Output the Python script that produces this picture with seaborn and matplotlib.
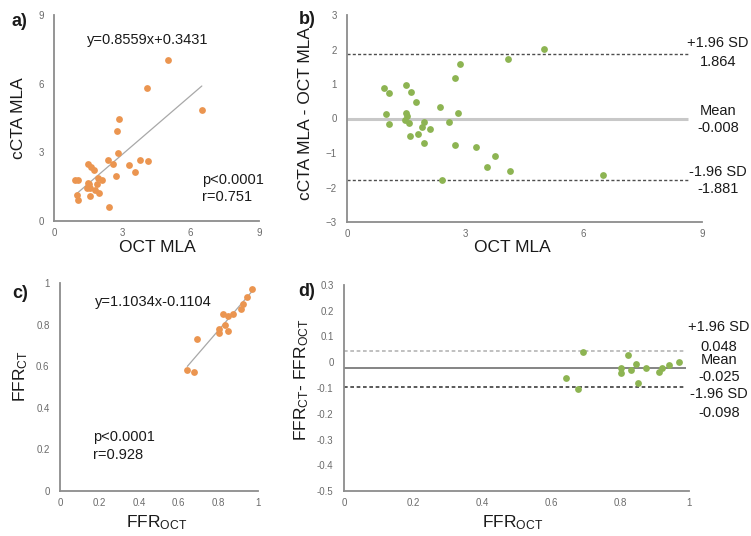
import numpy as np
import pandas as pd
import matplotlib
matplotlib.use("Agg")
import matplotlib.pyplot as plt
import seaborn as sns

# ---------------- data ----------------
oct_mla = [0.93, 1.06, 1.00, 1.06, 1.50, 1.61, 1.75, 1.49, 1.53, 1.47, 1.57,
           1.59, 1.81, 1.89, 1.95, 2.10, 1.96, 2.35, 2.59, 2.75, 2.86, 2.82,
           2.74, 3.28, 3.76, 3.56, 4.12, 4.08, 5.00, 6.49, 2.40]
cta_mla = [1.81, 1.80, 1.14, 0.90, 2.47, 2.38, 2.24, 1.65, 1.60, 1.44, 1.45,
           1.09, 1.37, 1.63, 1.86, 1.80, 1.24, 2.68, 2.48, 3.93, 4.45, 2.97,
           1.98, 2.46, 2.66, 2.14, 2.61, 5.81, 7.02, 4.84, 0.63]
ffr_oct = [0.643, 0.677, 0.693, 0.972, 0.942, 0.923, 0.912, 0.875, 0.823,
           0.846, 0.832, 0.803, 0.802, 0.851]
ffr_ct = [0.580, 0.572, 0.731, 0.972, 0.931, 0.901, 0.873, 0.852, 0.852,
          0.840, 0.800, 0.781, 0.760, 0.769]

mla_fit = [0.8559, 0.3431]      # slope, intercept
ffr_fit = [1.1034, -0.1104]
mla_ba_lines = [1.864, -0.008, -1.77]   # +1.96SD, mean, -1.96SD (as drawn)
ffr_ba_lines = [0.045, -0.023, -0.097]
mla_ba_labels = ["+1.96 SD", "1.864", "Mean", "-0.008", "-1.96 SD", "-1.881"]
ffr_ba_labels = ["+1.96 SD", "0.048", "Mean", "-0.025", "-1.96 SD", "-0.098"]

mla_ticks = [0, 3, 6, 9]
mla_diff_ticks = [-3, -2, -1, 0, 1, 2, 3]
ffr_ticks = [0, 0.2, 0.4, 0.6, 0.8, 1.0]
ffr_tick_labels = ["0", "0.2", "0.4", "0.6", "0.8", "1"]
ffr_diff_ticks = [-0.5, -0.4, -0.3, -0.2, -0.1, 0, 0.1, 0.2, 0.3]
ffr_diff_tick_labels = ["-0.5", "-0.4", "-0.3", "-0.2", "-0.1", "0", "0.1", "0.2", "0.3"]

df_mla = pd.DataFrame({"oct": oct_mla, "cta": cta_mla})
df_mla["diff"] = df_mla["cta"] - df_mla["oct"]
df_ffr = pd.DataFrame({"oct": ffr_oct, "ct": ffr_ct})
df_ffr["diff"] = df_ffr["ct"] - df_ffr["oct"]

# ---------------- style ----------------
sns.set_theme(style="white")
plt.rcParams["font.family"] = ["Liberation Sans", "DejaVu Sans"]
plt.rcParams["mathtext.fontset"] = "custom"
plt.rcParams["mathtext.rm"] = "Liberation Sans"
plt.rcParams["mathtext.it"] = "Liberation Sans:italic"
plt.rcParams["mathtext.bf"] = "Liberation Sans:bold"

W, H = 751, 536
fig = plt.figure(figsize=(W / 100, H / 100), dpi=100)

ORANGE = "#EB9550"
GREEN = "#8DB452"
SPINE = "#8c8c8c"
TICKC = "#6b6b6b"


def px_axes(x0, x1, y0, y1):
    return fig.add_axes([x0 / W, 1 - y1 / H, (x1 - x0) / W, (y1 - y0) / H])


def ftext(x, y, s, **kw):
    fig.text(x / W, 1 - y / H, s, **kw)


def style(ax):
    for side in ["top", "right"]:
        ax.spines[side].set_visible(False)
    for side in ["left", "bottom"]:
        ax.spines[side].set_color(SPINE)
        ax.spines[side].set_linewidth(1.3)
    ax.tick_params(axis="both", which="major", direction="out", length=3,
                   width=1.0, color=SPINE, labelsize=7, labelcolor=TICKC)
    ax.tick_params(axis="y", pad=4.5)
    ax.tick_params(axis="x", pad=2)
    ax.set_xlabel("")
    ax.set_ylabel("")
    ax.grid(False)


# ---------------- panel a ----------------
axa = px_axes(54, 259, 15, 221)
sns.scatterplot(data=df_mla, x="oct", y="cta", ax=axa, color=ORANGE, s=24,
                linewidth=0, zorder=3)
xs = np.array([df_mla["oct"].min(), df_mla["oct"].max()])
axa.plot(xs, mla_fit[0] * xs + mla_fit[1], color="#a8a8a8", lw=0.9, zorder=2)
axa.set_xlim(0, 9)
axa.set_ylim(0, 9)
axa.set_xticks(mla_ticks)
axa.set_yticks(mla_ticks)
style(axa)

# ---------------- panel b ----------------
axb = px_axes(347, 702, 15, 222)
sns.scatterplot(data=df_mla, x="oct", y="diff", ax=axb, color=GREEN, s=24,
                linewidth=0, zorder=3)
axb.hlines(mla_ba_lines[1], 0, 8.65, color="#c8c8c8", lw=2.2, zorder=1)
axb.hlines([mla_ba_lines[0], mla_ba_lines[2]], 0, 8.65, color="#4d4d4d",
           lw=1.0, linestyles=(0, (2.2, 1.6)), zorder=2)
axb.set_xlim(0, 9)
axb.set_ylim(-3, 3)
axb.set_xticks(mla_ticks)
axb.set_yticks(mla_diff_ticks)
style(axb)

# ---------------- panel c ----------------
axc = px_axes(60, 258, 283, 491)
sns.scatterplot(data=df_ffr, x="oct", y="ct", ax=axc, color=ORANGE, s=24,
                linewidth=0, zorder=3)
xs = np.array([df_ffr["oct"].min(), df_ffr["oct"].max()])
axc.plot(xs, ffr_fit[0] * xs + ffr_fit[1], color="#a8a8a8", lw=0.9, zorder=2)
axc.set_xlim(0, 1)
axc.set_ylim(0, 1)
axc.set_xticks(ffr_ticks)
axc.set_xticklabels(ffr_tick_labels)
axc.set_yticks(ffr_ticks)
axc.set_yticklabels(ffr_tick_labels)
style(axc)

# ---------------- panel d ----------------
axd = px_axes(344, 689, 285, 491)
sns.scatterplot(data=df_ffr, x="oct", y="diff", ax=axd, color=GREEN, s=24,
                linewidth=0, zorder=3)
axd.hlines(ffr_ba_lines[0], 0, 0.99, color="#b5b5b5", lw=1.2,
           linestyles=(0, (2.2, 1.6)), zorder=2)
axd.hlines(ffr_ba_lines[1], 0, 0.99, color="#707070", lw=1.2, zorder=2)
axd.hlines(ffr_ba_lines[2], 0, 0.99, color="#3d3d3d", lw=1.2,
           linestyles=(0, (2.2, 1.6)), zorder=2)
axd.set_xlim(0, 1)
axd.set_ylim(-0.5, 0.3)
axd.set_xticks(ffr_ticks)
axd.set_xticklabels(ffr_tick_labels)
axd.set_yticks(ffr_diff_ticks)
axd.set_yticklabels(ffr_diff_tick_labels)
style(axd)

# ---------------- texts ----------------
LAB = 12.5
TXT = 10.5
DARK = "#1a1a1a"

# panel letters
ftext(19, 22, "a)", fontsize=13, fontweight="bold", ha="center", va="center", color=DARK)
ftext(307, 19, "b)", fontsize=13, fontweight="bold", ha="center", va="center", color=DARK)
ftext(20, 293, "c)", fontsize=13, fontweight="bold", ha="center", va="center", color=DARK)
ftext(307, 291, "d)", fontsize=13, fontweight="bold", ha="center", va="center", color=DARK)

# axis labels
ftext(19, 118, "cCTA MLA", fontsize=LAB, rotation=90, ha="center", va="center", color=DARK)
ftext(157, 248, "OCT MLA", fontsize=LAB, ha="center", va="center", color=DARK)
ftext(305, 114, "cCTA MLA - OCT MLA", fontsize=LAB, rotation=90, ha="center", va="center", color=DARK)
ftext(512, 248, "OCT MLA", fontsize=LAB, ha="center", va="center", color=DARK)
ftext(21, 376, r"FFR$_{\mathrm{CT}}$", fontsize=LAB, rotation=90, ha="center", va="center", color=DARK)
ftext(157, 523, r"FFR$_{\mathrm{OCT}}$", fontsize=LAB, ha="center", va="center", color=DARK)
ftext(302, 380, r"FFR$_{\mathrm{CT}}$- FFR$_{\mathrm{OCT}}$", fontsize=LAB, rotation=90,
      ha="center", va="center", color=DARK)
ftext(513, 523, r"FFR$_{\mathrm{OCT}}$", fontsize=LAB, ha="center", va="center", color=DARK)

# equations / stats
ftext(148, 40, "y=0.8559x+0.3431", fontsize=TXT, ha="center", va="center", color=DARK)
ftext(202, 180, "p<0.0001", fontsize=TXT, ha="left", va="center", color=DARK)
ftext(202, 197, "r=0.751", fontsize=TXT, ha="left", va="center", color=DARK)
ftext(153, 302, "y=1.1034x-0.1104", fontsize=TXT, ha="center", va="center", color=DARK)
ftext(93, 437, "p<0.0001", fontsize=TXT, ha="left", va="center", color=DARK)
ftext(93, 455, "r=0.928", fontsize=TXT, ha="left", va="center", color=DARK)

# Bland-Altman labels
for lab, yy in zip(mla_ba_labels, [43, 62, 111, 128, 172, 189]):
    ftext(718, yy, lab, fontsize=TXT, ha="center", va="center", color=DARK)
for lab, yy in zip(ffr_ba_labels, [327, 347, 360, 377, 394, 413]):
    ftext(719, yy, lab, fontsize=TXT, ha="center", va="center", color=DARK)

fig.savefig("out.png", dpi=100, facecolor="white")
